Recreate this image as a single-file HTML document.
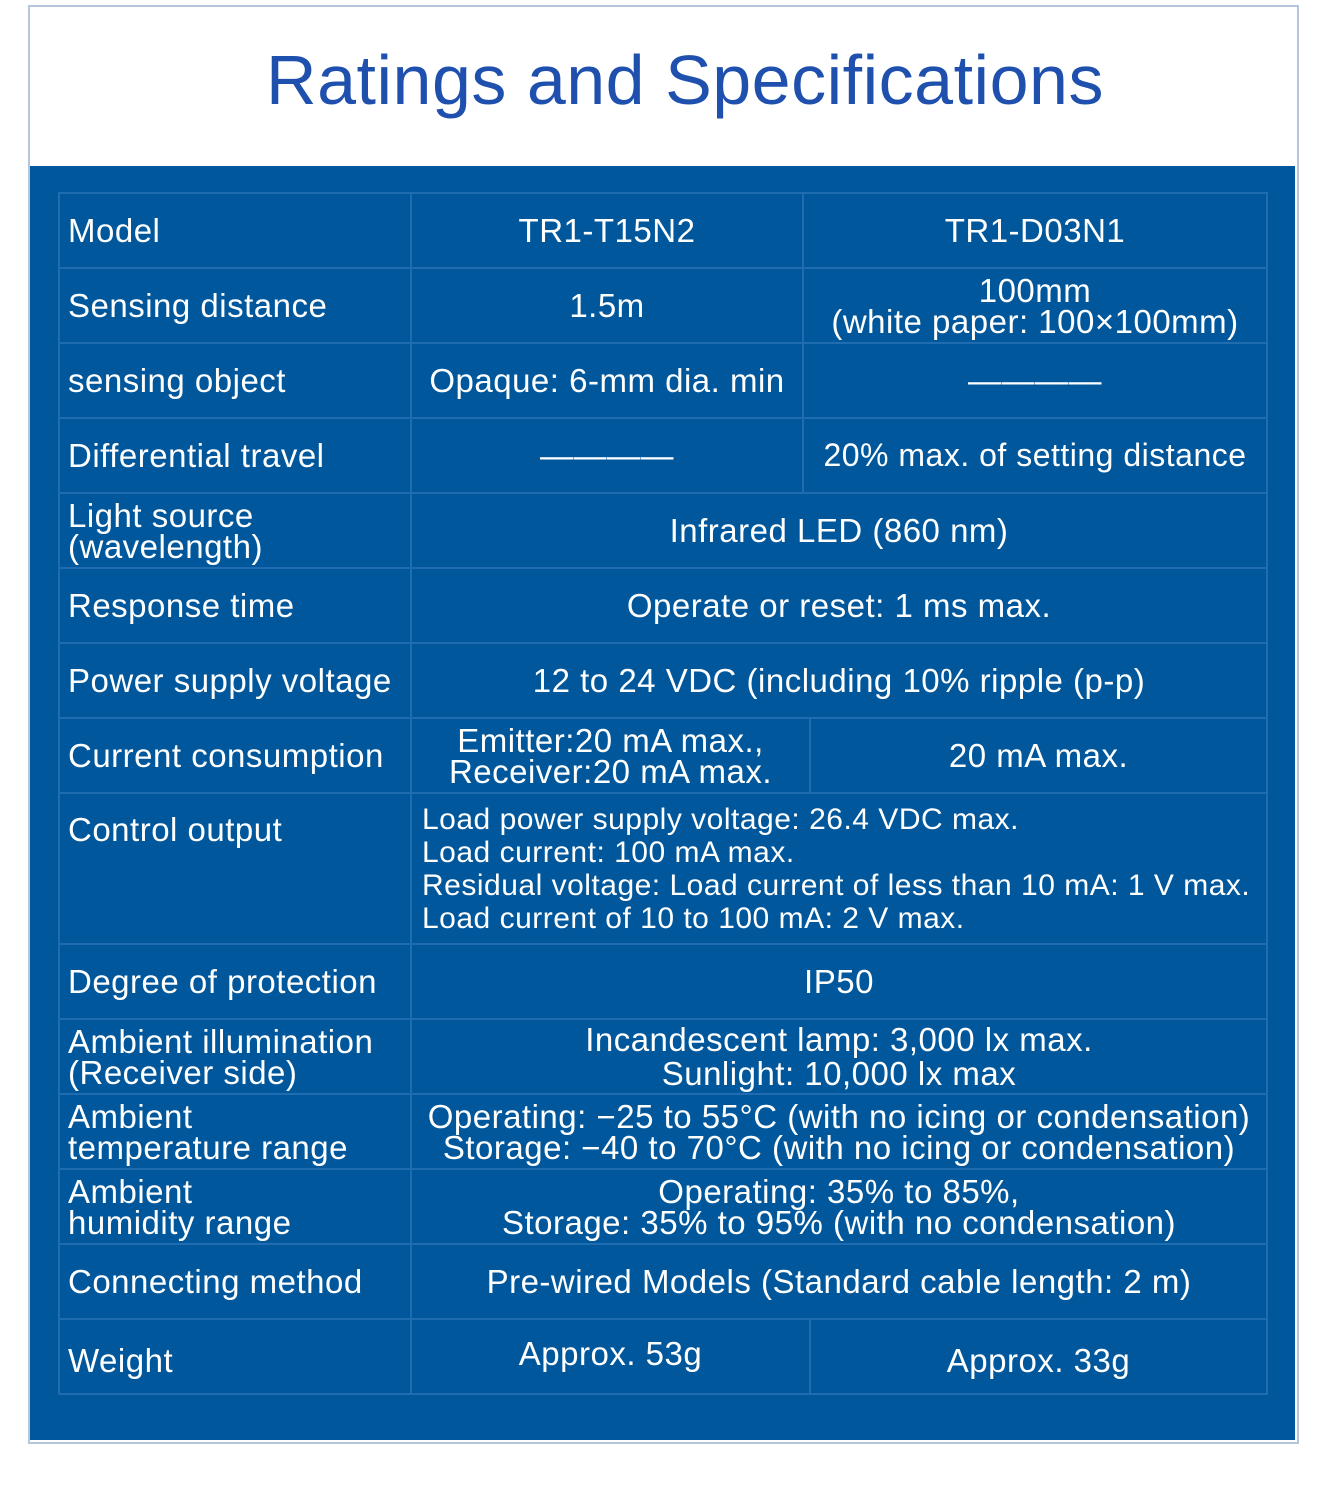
<!DOCTYPE html>
<html><head><meta charset="utf-8"><style>
html,body{margin:0;padding:0;background:#fff;}
body{width:1326px;height:1496px;position:relative;overflow:hidden;font-family:"Liberation Sans",sans-serif;}
#frame{position:absolute;left:28px;top:5px;width:1267px;height:1435px;border:2px solid #b3c6dc;background:#fff;}
#title{position:absolute;left:0;top:40px;width:1370px;text-align:center;font-size:70px;color:#1f50ae;letter-spacing:0.5px;}
#panel{position:absolute;left:30px;top:166px;width:1265px;height:1274px;background:#00579b;}
.c{position:absolute;box-sizing:border-box;border:2px solid #1f6cb0;color:#fff;font-size:33px;letter-spacing:0.5px;line-height:31px;display:flex;align-items:center;justify-content:center;text-align:center;white-space:nowrap;}
.l{justify-content:flex-start;text-align:left;padding-left:8px;}
</style></head><body>
<div id="frame"></div>
<div id="title">Ratings and Specifications</div>
<div id="panel"></div>

<div>
<div class="c l" style="left:58px;top:192px;width:354px;height:77px">Model</div>
<div class="c" style="left:410px;top:192px;width:394px;height:77px">TR1-T15N2</div>
<div class="c" style="left:802px;top:192px;width:466px;height:77px">TR1-D03N1</div>

<div class="c l" style="left:58px;top:267px;width:354px;height:77px">Sensing distance</div>
<div class="c" style="left:410px;top:267px;width:394px;height:77px">1.5m</div>
<div class="c" style="left:802px;top:267px;width:466px;height:77px">100mm<br>(white paper: 100×100mm)</div>

<div class="c l" style="left:58px;top:342px;width:354px;height:77px">sensing object</div>
<div class="c" style="left:410px;top:342px;width:394px;height:77px">Opaque: 6-mm dia. min</div>
<div class="c" style="left:802px;top:342px;width:466px;height:77px">————</div>

<div class="c l" style="left:58px;top:417px;width:354px;height:77px">Differential travel</div>
<div class="c" style="left:410px;top:417px;width:394px;height:77px">————</div>
<div class="c" style="left:802px;top:417px;width:466px;height:77px;font-size:32px">20% max. of setting distance</div>

<div class="c l" style="left:58px;top:492px;width:354px;height:77px">Light source<br>(wavelength)</div>
<div class="c" style="left:410px;top:492px;width:858px;height:77px">Infrared LED (860 nm)</div>

<div class="c l" style="left:58px;top:567px;width:354px;height:77px">Response time</div>
<div class="c" style="left:410px;top:567px;width:858px;height:77px">Operate or reset: 1 ms max.</div>

<div class="c l" style="left:58px;top:642px;width:354px;height:77px">Power supply voltage</div>
<div class="c" style="left:410px;top:642px;width:858px;height:77px">12 to 24 VDC (including 10% ripple (p-p)</div>

<div class="c l" style="left:58px;top:717px;width:354px;height:77px">Current consumption</div>
<div class="c" style="left:410px;top:717px;width:401px;height:77px">Emitter:20 mA max.,<br>Receiver:20 mA max.</div>
<div class="c" style="left:809px;top:717px;width:459px;height:77px">20 mA max.</div>

<div class="c l" style="left:58px;top:792px;width:354px;height:153px;align-items:flex-start;padding-top:20px">Control output</div>
<div class="c l" style="left:410px;top:792px;width:858px;height:153px;font-size:30px;line-height:33px;padding-left:10px">Load power supply voltage: 26.4 VDC max.<br>Load current: 100 mA max.<br>Residual voltage: Load current of less than 10 mA: 1 V max.<br>Load current of 10 to 100 mA: 2 V max.</div>

<div class="c l" style="left:58px;top:943px;width:354px;height:77px">Degree of protection</div>
<div class="c" style="left:410px;top:943px;width:858px;height:77px">IP50</div>

<div class="c l" style="left:58px;top:1018px;width:354px;height:77px">Ambient illumination<br>(Receiver side)</div>
<div class="c" style="left:410px;top:1018px;width:858px;height:77px;line-height:34px">Incandescent lamp: 3,000 lx max.<br>Sunlight: 10,000 lx max</div>

<div class="c l" style="left:58px;top:1093px;width:354px;height:77px">Ambient<br>temperature range</div>
<div class="c" style="left:410px;top:1093px;width:858px;height:77px">Operating: −25 to 55°C (with no icing or condensation)<br>Storage: −40 to 70°C (with no icing or condensation)</div>

<div class="c l" style="left:58px;top:1168px;width:354px;height:77px">Ambient<br>humidity range</div>
<div class="c" style="left:410px;top:1168px;width:858px;height:77px">Operating: 35% to 85%,<br>Storage: 35% to 95% (with no condensation)</div>

<div class="c l" style="left:58px;top:1243px;width:354px;height:77px">Connecting method</div>
<div class="c" style="left:410px;top:1243px;width:858px;height:77px">Pre-wired Models (Standard cable length: 2 m)</div>

<div class="c l" style="left:58px;top:1318px;width:354px;height:77px;padding-top:8px">Weight</div>
<div class="c" style="left:410px;top:1318px;width:401px;height:77px;align-items:flex-start;padding-top:18px">Approx. 53g</div>
<div class="c" style="left:809px;top:1318px;width:459px;height:77px;padding-top:8px">Approx. 33g</div>
</div>
</body></html>
